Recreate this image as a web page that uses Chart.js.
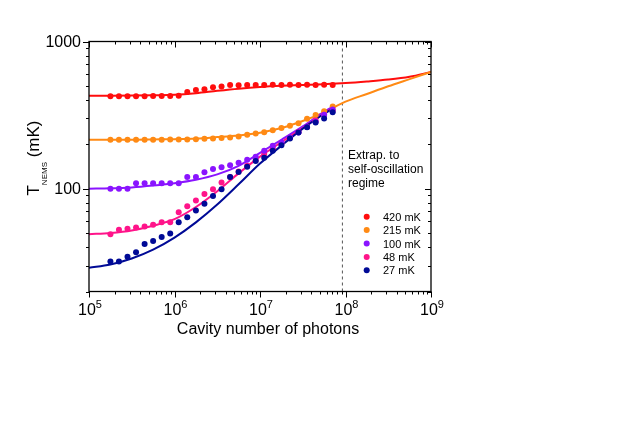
<!DOCTYPE html>
<html>
<head>
<meta charset="utf-8">
<script src="https://cdn.jsdelivr.net/npm/chart.js@4.4.1/dist/chart.umd.min.js"></script>
<style>
  html, body { margin: 0; padding: 0; background: #fff; }
  #wrap { width: 627px; height: 437px; }
</style>
</head>
<body>
<div id="wrap"><canvas id="chart" width="627" height="437"></canvas></div>
<script>
// measured photon numbers (same grid for every temperature)
const photons = [1.78e5, 2.24e5, 2.82e5, 3.55e5, 4.47e5, 5.62e5, 7.08e5, 8.91e5, 1.12e6,
  1.41e6, 1.78e6, 2.24e6, 2.82e6, 3.55e6, 4.47e6, 5.62e6, 7.08e6, 8.91e6, 1.12e7,
  1.41e7, 1.78e7, 2.24e7, 2.82e7, 3.55e7, 4.47e7, 5.62e7, 7.08e7];

const t420 = [424, 424, 424, 424, 424, 427, 427, 427, 428, 453, 468, 474, 488, 495, 506, 505, 506, 507,
  507, 508, 507, 508, 507, 508, 507, 508, 507];
const t215 = [215, 215, 215, 215, 215, 215, 215, 216, 216, 216, 217, 218, 219, 221, 223, 226, 232, 237,
  242, 249, 258, 268, 278, 298, 316, 336, 361];
const t100 = [100, 100, 100, 109, 109, 109, 109, 109, 109, 120, 120, 129, 136, 140, 144, 150, 157, 165,
  181, 196, 206, 223, 241, 262, 285, 318, 345];
const t48 = [49, 52.6, 53.4, 54.5, 55.4, 56.9, 59, 59, 69, 76, 83, 92, 99, 110, 120, 131, 143, 156,
  172, 188, 204, 222, 243, 262, 290, 318, 340];
const t27 = [32, 32, 34.5, 37, 42, 44, 47, 49.5, 59, 64, 71, 79, 89, 99, 120, 130, 141, 154,
  162, 181, 197, 219, 241, 261, 282, 300, 331];

// model curves, read every quarter decade
const fitX = [1e5, 1.78e5, 3.16e5, 5.62e5, 1e6, 1.78e6, 3.16e6, 5.62e6, 1e7, 1.78e7, 3.16e7, 5.62e7, 7.08e7];
const fitXlong = [1e5, 1.78e5, 3.16e5, 5.62e5, 1e6, 1.78e6, 3.16e6, 5.62e6, 1e7, 1.78e7, 3.16e7, 5.62e7,
  1e8, 1.78e8, 3.16e8, 5.62e8, 1e9];
const fit420 = [428, 428, 429, 431, 434, 445, 462, 478, 491, 500, 506, 513, 522, 535, 551, 576, 621];
const fit215 = [215, 215, 215, 216, 217, 219, 224, 230, 240, 258, 288, 330, 390, 440, 496, 555, 621];
const fit100 = [100, 100.5, 102, 105, 109, 115, 125, 143, 175, 215, 265, 333, 360];
const fit48 = [49, 50, 52, 56, 62, 75, 96, 127, 165, 207, 258, 324, 352];
const fit27 = [29, 30.5, 33.5, 38.5, 46.5, 59, 78, 107, 148, 196, 256, 323, 350];

const extrapX = [9.2e7, 9.2e7];
const extrapY = [20, 1000];

const labels = ['420 mK', '215 mK', '100 mK', '48 mK', '27 mK'];
const colors = ['#ff0d0d', '#ff8a14', '#8a14ff', '#ff148a', '#000a96'];

const FONT = '"Liberation Sans", Arial, Helvetica, sans-serif';

function pts(xs, ys) { return xs.map((x, i) => ({ x: x, y: ys[i] })); }

function dots(vals, c) {
  return { data: pts(photons, vals), backgroundColor: c, borderColor: c, pointRadius: 3, pointBorderWidth: 0, showLine: false };
}
function fit(xs, vals, c) {
  return { data: pts(xs, vals), borderColor: c, backgroundColor: c, borderWidth: 2, pointRadius: 0,
    showLine: true, cubicInterpolationMode: 'monotone' };
}

const frame = {
  id: 'frame',
  afterDraw(chart) {
    const ctx = chart.ctx;
    const a = chart.chartArea;
    const xs = chart.scales.x, ys = chart.scales.y;
    ctx.save();
    ctx.strokeStyle = '#000';
    ctx.lineWidth = 1.3;
    ctx.strokeRect(a.left, a.top, a.right - a.left, a.bottom - a.top);

    ctx.lineWidth = 1;
    ctx.beginPath();
    // x ticks: bottom outward, top inward
    for (let e = 5; e <= 9; e++) {
      for (let m = 1; m <= 9; m++) {
        const v = m * Math.pow(10, e);
        if (v > 1e9) break;
        const px = Math.round(xs.getPixelForValue(v)) + 0.5;
        const len = m === 1 ? 6 : 3;
        ctx.moveTo(px, a.bottom); ctx.lineTo(px, a.bottom + len);
        ctx.moveTo(px, a.top); ctx.lineTo(px, a.top + len);
      }
    }
    // y ticks: left outward, right inward
    for (let e = 1; e <= 3; e++) {
      for (let m = 1; m <= 9; m++) {
        const v = m * Math.pow(10, e);
        if (v < 20 || v > 1000) continue;
        const py = Math.round(ys.getPixelForValue(v)) + 0.5;
        const len = m === 1 ? 6 : 3;
        ctx.moveTo(a.left, py); ctx.lineTo(a.left - len, py);
        ctx.moveTo(a.right, py); ctx.lineTo(a.right - len, py);
      }
    }
    ctx.stroke();

    ctx.fillStyle = '#000';
    // x tick labels 10^n
    for (let e = 5; e <= 9; e++) {
      const px = xs.getPixelForValue(Math.pow(10, e));
      ctx.font = '16px ' + FONT;
      const w1 = ctx.measureText('10').width;
      ctx.font = '11px ' + FONT;
      const w2 = ctx.measureText(String(e)).width;
      const x0 = px - (w1 + w2) / 2 + 1;
      ctx.textAlign = 'left';
      ctx.textBaseline = 'alphabetic';
      ctx.font = '16px ' + FONT;
      ctx.fillText('10', x0, 315);
      ctx.font = '11px ' + FONT;
      ctx.fillText(String(e), x0 + w1, 308);
    }
    // y tick labels
    ctx.font = '16px ' + FONT;
    ctx.textAlign = 'right';
    [100, 1000].forEach(v => {
      ctx.fillText(String(v), a.left - 8, ys.getPixelForValue(v) + 5.8);
    });

    // x title
    ctx.textAlign = 'center';
    ctx.fillText('Cavity number of photons', (a.left + a.right) / 2 + 8, 334);

    // y title T_NEMS (mK)
    ctx.save();
    ctx.translate(38.5, 158);
    ctx.rotate(-Math.PI / 2);
    ctx.textAlign = 'left';
    ctx.font = '17px ' + FONT;
    const wT = ctx.measureText('T').width;
    const wU = ctx.measureText(' (mK)').width;
    ctx.font = '8px ' + FONT;
    const wS = ctx.measureText('NEMS').width;
    let lx = -(wT + wS + wU) / 2;
    ctx.font = '17px ' + FONT;
    ctx.fillText('T', lx, 0);
    lx += wT;
    ctx.font = '8px ' + FONT;
    ctx.fillText('NEMS', lx, 8);
    lx += wS;
    ctx.font = '17px ' + FONT;
    ctx.fillText(' (mK)', lx, 0);
    ctx.restore();

    // annotation
    ctx.font = '12px ' + FONT;
    ctx.textAlign = 'left';
    ['Extrap. to', 'self-oscillation', 'regime'].forEach((s, i) => {
      ctx.fillText(s, 348, 158.5 + i * 14.2);
    });

    // legend
    ctx.font = '11px ' + FONT;
    labels.forEach((s, i) => {
      const cy = 216.7 + i * 13.4;
      ctx.fillStyle = colors[i];
      ctx.beginPath();
      ctx.arc(366.7, cy, 3, 0, Math.PI * 2);
      ctx.fill();
      ctx.fillStyle = '#000';
      ctx.fillText(s, 383, cy + 4);
    });
    ctx.restore();
  }
};

new Chart(document.getElementById('chart'), {
  type: 'scatter',
  data: {
    datasets: [
      dots(t27, colors[4]),
      dots(t100, colors[2]),
      dots(t48, colors[3]),
      dots(t215, colors[1]),
      dots(t420, colors[0]),
      fit(fitX, fit27, colors[4]),
      fit(fitX, fit48, colors[3]),
      fit(fitX, fit100, colors[2]),
      fit(fitXlong, fit215, colors[1]),
      fit(fitXlong, fit420, colors[0]),
      { data: pts(extrapX, extrapY), borderColor: '#555', borderWidth: 1, borderDash: [3, 3],
        pointRadius: 0, showLine: true }
    ]
  },
  options: {
    responsive: false,
    animation: false,
    layout: { padding: { left: 89, right: 196, top: 41.5, bottom: 145.5 } },
    plugins: { legend: { display: false }, tooltip: { enabled: false } },
    scales: {
      x: { type: 'logarithmic', min: 1e5, max: 1e9, display: false },
      y: { type: 'logarithmic', min: 20, max: 1000, display: false }
    }
  },
  plugins: [frame]
});
</script>
</body>
</html>
